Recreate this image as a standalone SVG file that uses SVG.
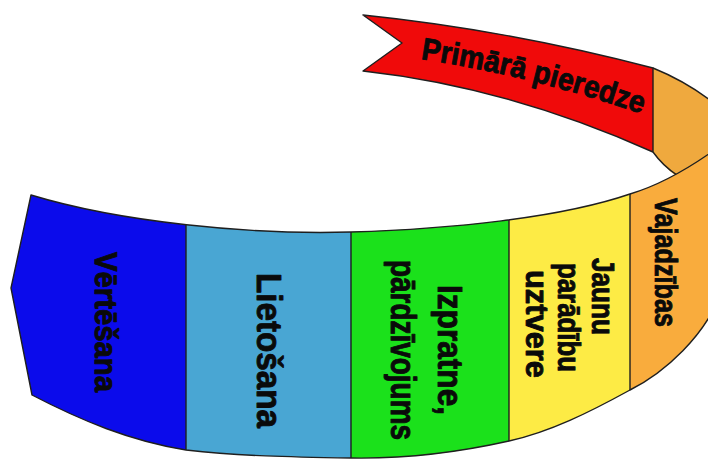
<svg xmlns="http://www.w3.org/2000/svg" width="708" height="459" viewBox="0 0 708 459">
  <style>
    .edge { stroke: #1f1f1f; stroke-width: 1.4; stroke-linejoin: round; fill: none; }
    .lbl { font-family: "Liberation Sans Narrow", "Liberation Sans", Arial, sans-serif; font-weight: bold; fill: #0a0a0a; stroke: #0a0a0a; stroke-width: 0.9; stroke-linejoin: round; }
  </style>
  <defs>
    <!-- outline of the front (lower) part of the ribbon -->
    <path id="frontShape" d="M31,195 C120,222 250,235 351,232 C450,229 560,218 630,194 C660,185 690,168 720,146 L720,295 C705,335 666,372 630,390 C590,412 550,432 509,441 C460,452 410,459 351,458 C290,457 240,456 186,450 C130,441 80,420 32,395 L11,288 Z"/>
    <clipPath id="frontClip">
      <use href="#frontShape"/>
    </clipPath>
    <!-- baseline for the title on the flag -->
    <path id="flagBase" d="M363,52 Q508,66 653,118"/>
  </defs>

  <rect width="708" height="459" fill="#ffffff"/>

  <!-- back of the ribbon: orange turn and red flag -->
  <g id="back-turn">
    <path d="M653,68 Q690,83 720,108 L720,165 L676,176 Q663,166 653,152 Z" fill="#EFA93E"/>
    <path class="edge" d="M653,68 Q690,83 720,108"/>
    <path class="edge" d="M653,152 Q663,166 677,175"/>
  </g>

  <g id="primara-pieredze">
    <path d="M363,15 Q508,30 653,68 L653,152 Q508,87 363,71 L402,43 Z" fill="#F00A0A" stroke="#1f1f1f" stroke-width="1.4" stroke-linejoin="round"/>
    <text class="lbl" font-size="31"><textPath href="#flagBase" startOffset="58" textLength="228" lengthAdjust="spacingAndGlyphs">Primārā pieredze</textPath></text>
  </g>

  <!-- front of the ribbon: five panels -->
  <g clip-path="url(#frontClip)">
    <g id="vertesana">
      <rect x="0" y="140" width="186" height="330" fill="#0B0BEB"/>
    </g>
    <g id="lietosana">
      <rect x="186" y="140" width="165" height="330" fill="#49A6D3"/>
    </g>
    <g id="izpratne">
      <rect x="351" y="140" width="158" height="330" fill="#1BE11B"/>
    </g>
    <g id="jaunu-paradibu-uztvere">
      <rect x="509" y="140" width="121" height="330" fill="#FDEB45"/>
    </g>
    <g id="vajadzibas">
      <rect x="630" y="140" width="90" height="330" fill="#F9AC3D"/>
    </g>
  </g>

  <g id="connectors" clip-path="url(#frontClip)">
    <line class="edge" x1="186" y1="150" x2="186" y2="470"/>
    <line class="edge" x1="351" y1="150" x2="351" y2="470"/>
    <line class="edge" x1="509" y1="150" x2="509" y2="470"/>
    <line class="edge" x1="630" y1="150" x2="630" y2="470"/>
  </g>
  <use href="#frontShape" class="edge"/>

  <!-- panel labels, running top to bottom -->
  <g id="labels">
    <text class="lbl" font-size="31" transform="translate(95,252) rotate(90)" textLength="140" lengthAdjust="spacingAndGlyphs">Vērtēšana</text>
    <text class="lbl" font-size="35" transform="translate(257,273) rotate(90)" textLength="155" lengthAdjust="spacingAndGlyphs">Lietošana</text>
    <text class="lbl" font-size="35" transform="translate(438,285) rotate(90)" textLength="130" lengthAdjust="spacingAndGlyphs">Izpratne,</text>
    <text class="lbl" font-size="35" transform="translate(391,260) rotate(90)" textLength="180" lengthAdjust="spacingAndGlyphs">pārdzīvojums</text>
    <text class="lbl" font-size="31" transform="translate(592,258) rotate(90)" textLength="77" lengthAdjust="spacingAndGlyphs">Jaunu</text>
    <text class="lbl" font-size="31" transform="translate(558,263) rotate(90)" textLength="109" lengthAdjust="spacingAndGlyphs">parādību</text>
    <text class="lbl" font-size="31" transform="translate(526,270) rotate(90)" textLength="108" lengthAdjust="spacingAndGlyphs">uztvere</text>
    <text class="lbl" font-size="32" transform="translate(655,198) rotate(90)" textLength="129" lengthAdjust="spacingAndGlyphs">Vajadzības</text>
  </g>
</svg>
